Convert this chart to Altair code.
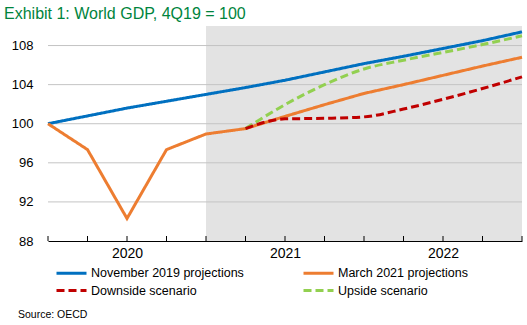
import altair as alt
import pandas as pd

# ---- data ----
quarters = [0, 1, 2, 3, 4, 5, 6, 7, 8, 9, 10, 11, 12]   # 4Q19 .. 4Q22
nov2019 = [100, 100.8, 101.6, 102.3, 103.0, 103.7, 104.45, 105.3, 106.15, 106.9, 107.7, 108.5, 109.4]
mar2021 = [100, 97.35, 90.3, 97.35, 98.95, 99.5, 100.75, 101.95, 103.1, 104.0, 104.95, 105.9, 106.8]
downside = [None, None, None, None, None, 99.5, 100.5, 100.55, 100.7, 101.5, 102.5, 103.6, 104.8]
upside = [None, None, None, None, None, 99.5, 101.95, 104.0, 105.6, 106.5, 107.3, 108.1, 109.0]

series_names = ["November 2019 projections", "March 2021 projections",
                "Downside scenario", "Upside scenario"]
series_colors = ["#0070C0", "#ED7D31", "#C00000", "#92D050"]
series_dash = [[1, 0], [1, 0], [8, 4], [8, 4]]

# legend fills column by column: order so rows read Nov | March, Downside | Upside
legend_order = [0, 2, 1, 3]

year_ticks = [2, 6, 10]
year_labels = ["2020", "2021", "2022"]
y_ticks = [88, 92, 96, 100, 104, 108]
grid_vals = [92, 96, 100, 104, 108]
tick_positions = quarters
shade_start, shade_end = 4, 12

rows = []
for name, vals in zip(series_names, [nov2019, mar2021, downside, upside]):
    for q, v in zip(quarters, vals):
        if v is not None:
            rows.append({"q": q, "v": v, "series": name})
df = pd.DataFrame(rows)

W, H = 474, 215
font = "Liberation Sans"

xscale = alt.Scale(domain=[0, 12], nice=False, zero=False)
yscale = alt.Scale(domain=[88, 110], nice=False, zero=False)

label_expr = " : ".join(
    f"datum.value == {t} ? '{l}'" for t, l in zip(year_ticks, year_labels)
) + " : ''"

xaxis = alt.Axis(values=year_ticks, labelExpr=label_expr, tickSize=0, domainColor="black",
                 domainWidth=1, labelFontSize=14, labelFont=font, labelColor="black",
                 labelPadding=5, grid=False, title=None)
yaxis = alt.Axis(values=y_ticks, domain=False, ticks=False, grid=False, labelPadding=15,
                 labelFontSize=13, labelFont=font, labelColor="black", title=None)

X = alt.X("q:Q", scale=xscale, axis=xaxis)
Y = alt.Y("v:Q", scale=yscale, axis=yaxis)

shade = alt.Chart(pd.DataFrame({"s": [shade_start], "e": [shade_end]})).mark_rect(
    color="#E3E3E3").encode(
    x=alt.X("s:Q", scale=xscale, axis=xaxis), x2="e:Q",
    y=alt.value(0), y2=alt.value(H))

grid = alt.Chart(pd.DataFrame({"v": grid_vals})).mark_rule(
    color="#C4C4C4", strokeWidth=1).encode(y=Y)

ticks = alt.Chart(pd.DataFrame({"q": tick_positions})).mark_rule(
    color="black", strokeWidth=1).encode(x=X, y=alt.value(H - 5), y2=alt.value(H))

dom = [series_names[i] for i in legend_order]
col_rng = [series_colors[i] for i in legend_order]
dash_rng = [series_dash[i] for i in legend_order]

# wide, flat custom symbol: 30px line while the entry stays 15px tall
legend = alt.Legend(title=None, orient="none", legendX=14.5, legendY=238, columns=2,
                    columnPadding=53, rowPadding=1.5, symbolType="M-2,0H2", symbolSize=225,
                    symbolStrokeWidth=3, labelFontSize=12.5, labelFont=font,
                    labelColor="black", labelOffset=10.5, labelLimit=400)

base = alt.Chart(df).encode(
    x=X, y=Y,
    color=alt.Color("series:N", scale=alt.Scale(domain=dom, range=col_rng),
                    legend=legend, sort=dom),
    strokeDash=alt.StrokeDash("series:N", scale=alt.Scale(domain=dom, range=dash_rng),
                              legend=legend, sort=dom),
)

def line(name, interp):
    return base.transform_filter(alt.datum.series == name).mark_line(
        strokeWidth=3, interpolate=interp, strokeCap="butt")

lines = [line(series_names[0], "linear"), line(series_names[1], "linear"),
         line(series_names[3], "monotone"), line(series_names[2], "monotone")]

source = alt.Chart(pd.DataFrame({"t": ["Source: OECD"]})).mark_text(
    align="left", baseline="alphabetic", fontSize=10.5, font=font, color="black").encode(
    text="t:N", x=alt.value(-30), y=alt.value(292))

chart = alt.layer(shade, grid, ticks, *lines, source).properties(
    width=W, height=H,
    title=alt.TitleParams(text="Exhibit 1: World GDP, 4Q19 = 100", anchor="start",
                          fontSize=16, font=font, fontWeight="normal", color="#00843D",
                          dx=-44, dy=16, offset=7, baseline="alphabetic", frame="group"),
    padding={"left": 48, "top": 26, "right": 5, "bottom": 84},
    autosize=alt.AutoSizeParams(type="none"),
).configure_view(stroke=None)

chart.save("out.html", embed_options={"renderer": "svg", "actions": False})
